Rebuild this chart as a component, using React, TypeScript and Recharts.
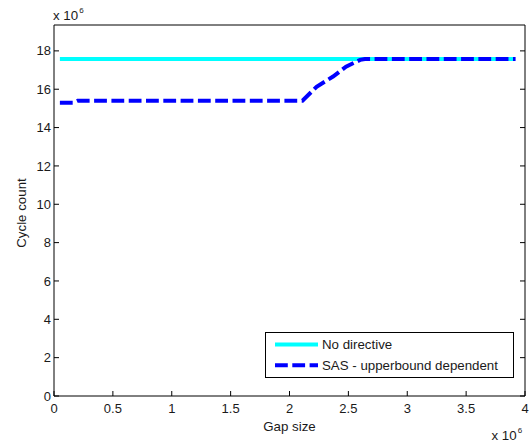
import { LineChart, Line, XAxis, YAxis, Legend } from "recharts";

// gap size and cycle count are both in units of 10^6
const gapTicks = [0, 0.5, 1, 1.5, 2, 2.5, 3, 3.5, 4];
const cycleTicks = [0, 2, 4, 6, 8, 10, 12, 14, 16, 18];

const noDirectiveGap = [0.05, 3.9];
const noDirectiveCycles = [17.58, 17.58];

const sasGap = [0.05, 0.16, 0.2, 2.11, 2.23, 2.37, 2.48, 2.6, 2.64, 3.92];
const sasCycles = [15.3, 15.3, 15.4, 15.4, 16.13, 16.66, 17.18, 17.53, 17.58, 17.58];

const toRows = (xs: number[], ys: number[]) => xs.map((gap, i) => ({ gap, cycles: ys[i] }));

const noDirectiveData = toRows(noDirectiveGap, noDirectiveCycles);
const sasData = toRows(sasGap, sasCycles);

const font = '"Liberation Sans", Arial, Helvetica, sans-serif';
const ink = "#1a1a1a";
const TICK = 5;

// matlab-style ticks: marks point into the plot box
const BottomTick = ({ x, y, payload }: any) => (
  <g>
    <line x1={x} x2={x} y1={y} y2={y - TICK} stroke="#000" />
    <text x={x} y={y + 8} dy="0.71em" textAnchor="middle" fontSize={13} fontFamily={font} fill={ink}>
      {String(payload.value)}
    </text>
  </g>
);

const LeftTick = ({ x, y, payload }: any) => (
  <g>
    <line x1={x} x2={x + TICK} y1={y} y2={y} stroke="#000" />
    <text x={x - 3} y={y} dy="0.355em" textAnchor="end" fontSize={13} fontFamily={font} fill={ink}>
      {String(payload.value)}
    </text>
  </g>
);

const TopTick = ({ x, y }: any) => <line x1={x} x2={x} y1={y} y2={y + TICK} stroke="#000" />;
const RightTick = ({ x, y }: any) => <line x1={x} x2={x - TICK} y1={y} y2={y} stroke="#000" />;

const renderLegend = (props: any) => {
  const items = props.payload ?? [];
  return (
    <svg width={249} height={46} style={{ display: "block" }}>
      <rect x={0.5} y={0.5} width={248} height={45} fill="#fff" stroke="#000" />
      {items.map((item: any, i: number) => {
        const cy = 12.5 + i * 20.7;
        return (
          <g key={item.value}>
            <line x1={10} x2={53} y1={cy} y2={cy} stroke={item.color} strokeWidth={4}
              strokeDasharray={item.payload?.strokeDasharray} />
            <text x={57} y={cy} dominantBaseline="central" fontSize={13.3} fontFamily={font} fill={ink}>
              {item.value}
            </text>
          </g>
        );
      })}
    </svg>
  );
};

const Exponent = ({ x, y }: { x: number; y: number }) => (
  <text x={x} y={y} fontSize={13.3} fontFamily={font} fill={ink}>
    x 10
    <tspan dx={1} dy={-7} fontSize={8}>6</tspan>
  </text>
);

export default function App() {
  return (
    <div style={{ position: "absolute", left: 0, top: 0, width: 532, height: 444, background: "#fff" }}>
      <LineChart width={532} height={444} margin={{ top: 24, right: 6, bottom: 18, left: 0 }}>
        <XAxis dataKey="gap" type="number" domain={[0, 4]} ticks={gapTicks} allowDataOverflow
          height={30} tickSize={0} tickMargin={0} tick={BottomTick} tickLine={false} stroke="#000"
          label={{
            content: () => (
              <g>
                <text x={289.5} y={431} textAnchor="middle" fontSize={13.3} fontFamily={font} fill={ink}>Gap size</text>
                <Exponent x={491.5} y={440} />
              </g>
            ),
          }} />
        <XAxis xAxisId="top" orientation="top" type="number" domain={[0, 4]} ticks={gapTicks} allowDataOverflow
          height={1} tickSize={0} tickMargin={0} tick={TopTick} tickLine={false} stroke="#000"
          label={{ content: () => <Exponent x={53} y={20} /> }} />
        <YAxis type="number" domain={[0, 19.35]} ticks={cycleTicks} allowDataOverflow
          width={54} tickSize={0} tickMargin={0} tick={LeftTick} tickLine={false} stroke="#000"
          label={{
            content: () => (
              <text x={21} y={213} transform="rotate(-90 21 213)" textAnchor="middle"
                dominantBaseline="central" fontSize={13.3} fontFamily={font} fill={ink}>
                Cycle count
              </text>
            ),
          }} />
        <YAxis yAxisId="right" orientation="right" type="number" domain={[0, 19.35]} ticks={cycleTicks}
          allowDataOverflow width={1} tickSize={0} tickMargin={0} tick={RightTick} tickLine={false} stroke="#000" />
        <Line data={noDirectiveData} dataKey="cycles" name="No directive" type="linear"
          stroke="#00ffff" strokeWidth={4} dot={false} activeDot={false} isAnimationActive={false} />
        <Line data={sasData} dataKey="cycles" name="SAS - upperbound dependent" type="linear"
          stroke="#0000ff" strokeWidth={4} strokeDasharray="12.8 4.5" dot={false} activeDot={false}
          isAnimationActive={false} />
        <Legend layout="vertical" align="center" verticalAlign="middle" content={renderLegend}
          wrapperStyle={{ left: 265, top: 332, width: 249, height: 46 }} />
      </LineChart>
    </div>
  );
}
